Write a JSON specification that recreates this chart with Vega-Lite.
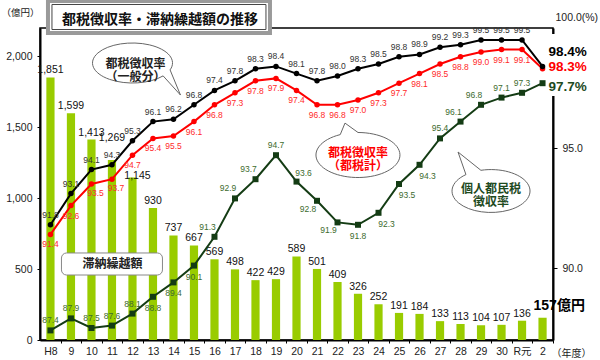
{
  "$schema": "https://vega.github.io/schema/vega-lite/v6.json",
  "width": 513,
  "height": 312,
  "autosize": {"type": "none"},
  "padding": {"left": 40, "top": 28, "right": 47, "bottom": 20},
  "config": {
    "font": "Liberation Sans, Noto Sans CJK JP",
    "view": {"stroke": "#000", "strokeWidth": 1.5},
    "axis": {"labelFont": "Liberation Sans, Noto Sans CJK JP", "titleFont": "Liberation Sans, Noto Sans CJK JP", "labelColor": "#222", "titleColor": "#222", "domainColor": "#000", "tickColor": "#000", "grid": false}
  },
  "datasets": {
    "d": [
      {"year": "H8", "amount": 1851, "general": 91.8, "total": 91.4, "resident": 87.4},
      {"year": "9", "amount": 1599, "general": 93.1, "total": 92.6, "resident": 87.9},
      {"year": "10", "amount": 1413, "general": 94.1, "total": 93.5, "resident": 87.5},
      {"year": "11", "amount": 1269, "general": 94.3, "total": 93.7, "resident": 87.6},
      {"year": "12", "amount": 1145, "general": 95.3, "total": 94.7, "resident": 88.1},
      {"year": "13", "amount": 930, "general": 96.1, "total": 95.4, "resident": 88.8},
      {"year": "14", "amount": 737, "general": 96.2, "total": 95.5, "resident": 89.4},
      {"year": "15", "amount": 667, "general": 96.8, "total": 96.1, "resident": 90.1},
      {"year": "16", "amount": 569, "general": 97.4, "total": 96.8, "resident": 91.3},
      {"year": "17", "amount": 498, "general": 97.8, "total": 97.3, "resident": 92.9},
      {"year": "18", "amount": 422, "general": 98.3, "total": 97.8, "resident": 93.7},
      {"year": "19", "amount": 429, "general": 98.4, "total": 97.9, "resident": 94.7},
      {"year": "20", "amount": 589, "general": 98.1, "total": 97.4, "resident": 93.6},
      {"year": "21", "amount": 501, "general": 97.8, "total": 96.8, "resident": 92.8},
      {"year": "22", "amount": 409, "general": 98.0, "total": 96.8, "resident": 91.9},
      {"year": "23", "amount": 326, "general": 98.3, "total": 97.0, "resident": 91.8},
      {"year": "24", "amount": 252, "general": 98.5, "total": 97.3, "resident": 92.3},
      {"year": "25", "amount": 191, "general": 98.8, "total": 97.7, "resident": 93.5},
      {"year": "26", "amount": 184, "general": 98.9, "total": 98.1, "resident": 94.3},
      {"year": "27", "amount": 133, "general": 99.2, "total": 98.5, "resident": 95.4},
      {"year": "28", "amount": 113, "general": 99.3, "total": 98.8, "resident": 96.1},
      {"year": "29", "amount": 104, "general": 99.5, "total": 99.0, "resident": 96.8},
      {"year": "30", "amount": 107, "general": 99.5, "total": 99.1, "resident": 97.1},
      {"year": "R元", "amount": 136, "general": 99.5, "total": 99.1, "resident": 97.3},
      {"year": "2", "amount": 157, "general": 98.4, "total": 98.3, "resident": 97.7}
    ]
  },
  "data": {"name": "d"},
  "encoding": {
    "x": {
      "field": "year", "type": "ordinal",
      "scale": {"domain": ["H8","9","10","11","12","13","14","15","16","17","18","19","20","21","22","23","24","25","26","27","28","29","30","R元","2"], "paddingInner": 0.6, "paddingOuter": 0.31},
      "axis": {"title": "（年度）", "titleAngle": 0, "titleAlign": "left", "titleBaseline": "middle", "titleX": 511, "titleY": 13, "titleFontWeight": "normal", "titleFontSize": 10, "labelAngle": 0, "labelFontSize": 10.5, "tickSize": 3, "tickOffset": 10.25, "labelOffset": -10.25, "labelPadding": 3, "domainWidth": 2}
    }
  },
  "layer": [
    {
      "encoding": {
        "y": {"field": "amount", "type": "quantitative", "scale": {"domain": [0, 2200], "nice": false},
          "axis": {"orient": "left", "values": [0, 500, 1000, 1500, 2000], "format": ",d", "title": "（億円）", "titleAngle": 0, "titleAlign": "left", "titleBaseline": "middle", "titleX": -39, "titleY": -16, "titleFontWeight": "normal", "titleFontSize": 9.5, "labelFontSize": 10.5, "tickSize": 3, "labelPadding": 5, "domainWidth": 2}}
      },
      "layer": [
        {"mark": {"type": "bar", "color": "#99cc00"}},
        {"transform": [{"filter": "indexof(['2','11','12'], datum.year) < 0"}],
         "mark": {"type": "text", "baseline": "bottom", "dy": -2, "fontSize": 10.5, "color": "#111"},
         "encoding": {"text": {"field": "amount", "type": "quantitative", "format": ",d"}}},
        {"transform": [{"filter": "datum.year == '11'"}],
         "mark": {"type": "text", "baseline": "bottom", "dy": -17, "fontSize": 10.5, "color": "#111"},
         "encoding": {"text": {"field": "amount", "type": "quantitative", "format": ",d"}}},
        {"transform": [{"filter": "datum.year == '12'"}],
         "mark": {"type": "text", "baseline": "bottom", "dx": 5, "dy": 3, "fontSize": 10.5, "color": "#111"},
         "encoding": {"text": {"field": "amount", "type": "quantitative", "format": ",d"}}},
        {"transform": [{"filter": "datum.year == '2'"}, {"calculate": "datum.amount + '億円'", "as": "lab"}],
         "mark": {"type": "text", "align": "left", "baseline": "middle", "dx": -9, "dy": -12, "fontSize": 14, "fontWeight": "bold", "color": "#000"},
         "encoding": {"text": {"field": "lab", "type": "nominal"}}}
      ]
    },
    {
      "layer": [
        {"mark": {"type": "line", "color": "#143c14", "strokeWidth": 2, "point": {"shape": "square", "size": 36, "filled": true, "color": "#143c14", "opacity": 1}},
         "encoding": {"y": {"field": "resident", "type": "quantitative", "scale": {"domain": [87, 100], "nice": false, "zero": false},
           "axis": {"orient": "right", "values": [90, 95], "format": ".1f", "title": "100.0(%)", "titleAngle": 0, "titleAlign": "left", "titleBaseline": "middle", "titleX": 2, "titleY": -11, "titleFontWeight": "normal", "titleFontSize": 10.5, "labelFontSize": 10.5, "tickSize": 4, "labelPadding": 5, "domainWidth": 2}}}},
        {"mark": {"type": "line", "color": "#ff0000", "strokeWidth": 2, "point": {"shape": "circle", "size": 30, "filled": true, "color": "#ff0000", "opacity": 1}},
         "encoding": {"y": {"field": "total", "type": "quantitative", "scale": {"domain": [87, 100], "nice": false, "zero": false}}}},
        {"mark": {"type": "line", "color": "#000000", "strokeWidth": 2, "point": {"shape": "circle", "size": 30, "filled": true, "color": "#000000", "opacity": 1}},
         "encoding": {"y": {"field": "general", "type": "quantitative", "scale": {"domain": [87, 100], "nice": false, "zero": false}}}},

        {"transform": [{"filter": "datum.year != '2'"}],
         "mark": {"type": "text", "baseline": "middle", "dy": -10, "fontSize": 8.5, "color": "#333"},
         "encoding": {"y": {"field": "general", "type": "quantitative", "scale": {"domain": [87, 100], "nice": false, "zero": false}}, "text": {"field": "general", "type": "quantitative", "format": ".1f"}}},
        {"transform": [{"filter": "indexof(['2','10','11'], datum.year) < 0"}],
         "mark": {"type": "text", "baseline": "middle", "dy": 10, "fontSize": 8.5, "color": "#ff2a2a"},
         "encoding": {"y": {"field": "total", "type": "quantitative", "scale": {"domain": [87, 100], "nice": false, "zero": false}}, "text": {"field": "total", "type": "quantitative", "format": ".1f"}}},
        {"transform": [{"filter": "indexof(['10','11'], datum.year) >= 0"}],
         "mark": {"type": "text", "baseline": "middle", "dx": 4, "dy": 9, "fontSize": 8.5, "color": "#ff2a2a"},
         "encoding": {"y": {"field": "total", "type": "quantitative", "scale": {"domain": [87, 100], "nice": false, "zero": false}}, "text": {"field": "total", "type": "quantitative", "format": ".1f"}}},

        {"transform": [{"filter": "indexof(['H8','9','10','11','12','19','27','30','R元'], datum.year) >= 0"}],
         "mark": {"type": "text", "baseline": "middle", "dy": -10, "fontSize": 8.5, "color": "#3d6b2e"},
         "encoding": {"y": {"field": "resident", "type": "quantitative", "scale": {"domain": [87, 100], "nice": false, "zero": false}}, "text": {"field": "resident", "type": "quantitative", "format": ".1f"}}},
        {"transform": [{"filter": "indexof(['13','14','15','23'], datum.year) >= 0"}],
         "mark": {"type": "text", "baseline": "middle", "dy": 11, "fontSize": 8.5, "color": "#3d6b2e"},
         "encoding": {"y": {"field": "resident", "type": "quantitative", "scale": {"domain": [87, 100], "nice": false, "zero": false}}, "text": {"field": "resident", "type": "quantitative", "format": ".1f"}}},
        {"transform": [{"filter": "indexof(['16','17','18','28','29'], datum.year) >= 0"}],
         "mark": {"type": "text", "baseline": "middle", "dx": -7, "dy": -10, "fontSize": 8.5, "color": "#3d6b2e"},
         "encoding": {"y": {"field": "resident", "type": "quantitative", "scale": {"domain": [87, 100], "nice": false, "zero": false}}, "text": {"field": "resident", "type": "quantitative", "format": ".1f"}}},
        {"transform": [{"filter": "datum.year == '20'"}],
         "mark": {"type": "text", "baseline": "middle", "dx": 7, "dy": -9, "fontSize": 8.5, "color": "#3d6b2e"},
         "encoding": {"y": {"field": "resident", "type": "quantitative", "scale": {"domain": [87, 100], "nice": false, "zero": false}}, "text": {"field": "resident", "type": "quantitative", "format": ".1f"}}},
        {"transform": [{"filter": "indexof(['21','22'], datum.year) >= 0"}],
         "mark": {"type": "text", "baseline": "middle", "dx": -9, "dy": 8, "fontSize": 8.5, "color": "#3d6b2e"},
         "encoding": {"y": {"field": "resident", "type": "quantitative", "scale": {"domain": [87, 100], "nice": false, "zero": false}}, "text": {"field": "resident", "type": "quantitative", "format": ".1f"}}},
        {"transform": [{"filter": "indexof(['24','25','26'], datum.year) >= 0"}],
         "mark": {"type": "text", "baseline": "middle", "dx": 8, "dy": 11, "fontSize": 8.5, "color": "#3d6b2e"},
         "encoding": {"y": {"field": "resident", "type": "quantitative", "scale": {"domain": [87, 100], "nice": false, "zero": false}}, "text": {"field": "resident", "type": "quantitative", "format": ".1f"}}},

        {"data": {"values": [{}]},
         "mark": {"type": "point", "shape": "M0.257,-1.265H2.257V1.265H0.257Z", "size": 2401, "filled": true, "fill": "#ffffff", "stroke": null, "opacity": 1},
         "encoding": {"x": {"datum": "2", "type": "ordinal"}, "y": {"datum": 98.458, "type": "quantitative", "scale": {"domain": [87, 100], "nice": false, "zero": false}}}},

        {"transform": [{"filter": "datum.year == '2'"}, {"calculate": "format(datum.general, '.1f') + '%'", "as": "lab"}],
         "mark": {"type": "text", "align": "left", "baseline": "middle", "dx": 6, "dy": -14, "fontSize": 13.5, "fontWeight": "bold", "color": "#000"},
         "encoding": {"y": {"field": "general", "type": "quantitative", "scale": {"domain": [87, 100], "nice": false, "zero": false}}, "text": {"field": "lab", "type": "nominal"}}},
        {"transform": [{"filter": "datum.year == '2'"}, {"calculate": "format(datum.total, '.1f') + '%'", "as": "lab"}],
         "mark": {"type": "text", "align": "left", "baseline": "middle", "dx": 6, "dy": -2, "fontSize": 13.5, "fontWeight": "bold", "color": "#ff0000"},
         "encoding": {"y": {"field": "total", "type": "quantitative", "scale": {"domain": [87, 100], "nice": false, "zero": false}}, "text": {"field": "lab", "type": "nominal"}}},
        {"transform": [{"filter": "datum.year == '2'"}, {"calculate": "format(datum.resident, '.1f') + '%'", "as": "lab"}],
         "mark": {"type": "text", "align": "left", "baseline": "middle", "dx": 6, "dy": 4, "fontSize": 13.5, "fontWeight": "bold", "color": "#1e4a1e"},
         "encoding": {"y": {"field": "resident", "type": "quantitative", "scale": {"domain": [87, 100], "nice": false, "zero": false}}, "text": {"field": "lab", "type": "nominal"}}},

        {"data": {"values": [{}]},
         "mark": {"type": "point", "shape": "M0.94,0.171A1,0.5 0 1,0 0.766,0.321L1.2,0.8Z", "size": 6400, "filled": true, "fill": "#ffffff", "stroke": "#666", "strokeWidth": 1, "opacity": 1},
         "encoding": {"x": {"datum": "12", "type": "ordinal"}, "y": {"datum": 98.54, "type": "quantitative", "scale": {"domain": [87, 100], "nice": false, "zero": false}}}},
        {"data": {"values": [{}]},
         "mark": {"type": "text", "text": ["都税徴収率", "（一般分）"], "font": "Noto Sans CJK JP", "fontWeight": "bold", "fontSize": 12, "lineHeight": 13, "baseline": "middle", "dx": 3, "dy": 1, "color": "#222"},
         "encoding": {"x": {"datum": "12", "type": "ordinal"}, "y": {"datum": 98.54, "type": "quantitative", "scale": {"domain": [87, 100], "nice": false, "zero": false}}}},

        {"data": {"values": [{}]},
         "mark": {"type": "point", "shape": "M-0.423,-0.486A1,0.536 0 1,0 0,-0.536L-0.31,-0.76Z", "size": 7056, "filled": true, "fill": "#ffffff", "stroke": "#666", "strokeWidth": 1, "opacity": 1},
         "encoding": {"x": {"datum": "23", "type": "ordinal"}, "y": {"datum": 94.708, "type": "quantitative", "scale": {"domain": [87, 100], "nice": false, "zero": false}}}},
        {"data": {"values": [{}]},
         "mark": {"type": "text", "text": ["都税徴収率", "（都税計）"], "font": "Noto Sans CJK JP", "fontWeight": "bold", "fontSize": 12, "lineHeight": 13, "baseline": "middle", "dy": -2, "color": "#ff0000"},
         "encoding": {"x": {"datum": "23", "type": "ordinal"}, "y": {"datum": 94.708, "type": "quantitative", "scale": {"domain": [87, 100], "nice": false, "zero": false}}}},

        {"data": {"values": [{}]},
         "mark": {"type": "point", "shape": "M-0.387,-0.421A1,0.55 0 1,0 -0.003,-0.531L-0.59,-1Z", "size": 6084, "filled": true, "fill": "#ffffff", "stroke": "#666", "strokeWidth": 1, "opacity": 1},
         "encoding": {"x": {"datum": "29", "type": "ordinal"}, "y": {"datum": 93.208, "type": "quantitative", "scale": {"domain": [87, 100], "nice": false, "zero": false}}}},
        {"data": {"values": [{}]},
         "mark": {"type": "text", "text": ["個人都民税", "徴収率"], "font": "Noto Sans CJK JP", "fontWeight": "bold", "fontSize": 12, "lineHeight": 13, "baseline": "middle", "dx": 10, "dy": -2.5, "color": "#1e4a1e"},
         "encoding": {"x": {"datum": "29", "type": "ordinal"}, "y": {"datum": 93.208, "type": "quantitative", "scale": {"domain": [87, 100], "nice": false, "zero": false}}}},

        {"data": {"values": [{}]},
         "mark": {"type": "point", "shape": "M-0.9,-0.218H0.9A0.1,0.1 0 0 1 1,-0.118V0.118A0.1,0.1 0 0 1 0.9,0.218H-0.9A0.1,0.1 0 0 1 -1,0.118V-0.118A0.1,0.1 0 0 1 -0.9,-0.218Z", "size": 10201, "filled": true, "fill": "#ffffff", "stroke": "#888", "strokeWidth": 1, "opacity": 1},
         "encoding": {"x": {"datum": "11", "type": "ordinal"}, "y": {"datum": 90.167, "type": "quantitative", "scale": {"domain": [87, 100], "nice": false, "zero": false}}}},
        {"data": {"values": [{}]},
         "mark": {"type": "text", "text": "滞納繰越額", "font": "Noto Sans CJK JP", "fontWeight": "bold", "fontSize": 12, "baseline": "middle", "dx": 0.5, "color": "#222"},
         "encoding": {"x": {"datum": "11", "type": "ordinal"}, "y": {"datum": 90.167, "type": "quantitative", "scale": {"domain": [87, 100], "nice": false, "zero": false}}}},

        {"data": {"values": [{}]},
         "mark": {"type": "point", "shape": "M-0.946,-0.144H1.054V0.144H-0.946Z", "size": 49284, "filled": true, "fill": "#ffffff", "stroke": "#9a9a9a", "strokeWidth": 4, "opacity": 1},
         "encoding": {"x": {"datum": "13", "type": "ordinal"}, "y": {"datum": 100.458, "type": "quantitative", "scale": {"domain": [87, 100], "nice": false, "zero": false}}}},
        {"data": {"values": [{}]},
         "mark": {"type": "point", "shape": "M-0.944,-0.117H1.056V0.117H-0.944Z", "size": 45796, "filled": false, "stroke": "#444", "strokeWidth": 1, "opacity": 1},
         "encoding": {"x": {"datum": "13", "type": "ordinal"}, "y": {"datum": 100.458, "type": "quantitative", "scale": {"domain": [87, 100], "nice": false, "zero": false}}}},
        {"data": {"values": [{}]},
         "mark": {"type": "text", "text": "都税徴収率・滞納繰越額の推移", "font": "Noto Sans CJK JP", "fontWeight": "bold", "fontSize": 14, "baseline": "middle", "dx": 7, "color": "#111"},
         "encoding": {"x": {"datum": "13", "type": "ordinal"}, "y": {"datum": 100.354, "type": "quantitative", "scale": {"domain": [87, 100], "nice": false, "zero": false}}}}
      ]
    }
  ],
  "resolve": {"scale": {"y": "independent"}}
}
